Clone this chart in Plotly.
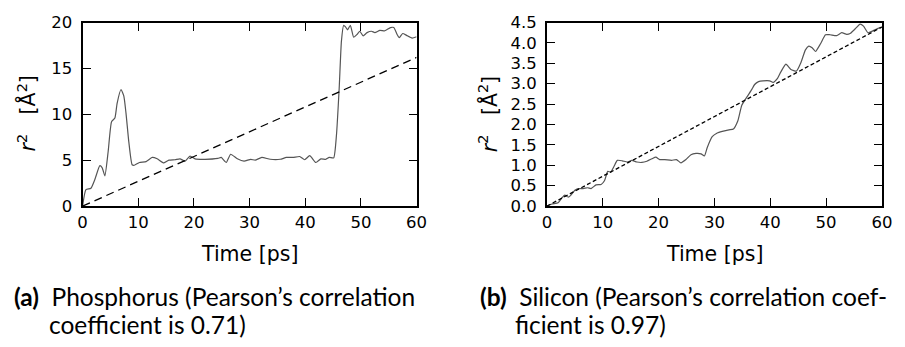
import plotly.graph_objects as go

# ---------------- data ----------------
p_t = [0, 0.6, 1.5, 2.2, 3.1, 3.5, 4.0, 4.6, 5.2, 5.8, 6.2, 6.9, 7.4, 7.8, 8.3,
       8.9, 9.3, 10.2, 11.4, 12.5, 13.4, 14.6, 15.5, 16.6, 17.5, 18.4, 19.3, 20.2,
       22.0, 24.3, 24.9, 25.8, 26.6, 27.8, 29.0, 30.2, 31.0, 32.2, 33.7, 35.5,
       36.6, 37.8, 39.0, 39.9, 40.8, 41.9, 42.8, 43.7, 44.3, 45.1, 45.6, 46.1,
       46.5, 46.9, 47.2, 47.6, 48.1, 48.7, 49.3, 49.8, 50.4, 51.1, 51.9, 52.5,
       53.4, 54.3, 55.3, 55.9, 56.5, 56.9, 57.5, 58.2, 59.2, 60.0]
p_r2 = [0, 1.8, 1.95, 2.9, 4.4, 4.2, 3.3, 6.0, 9.2, 9.6, 11.2, 12.7, 12.0, 10.1, 7.0,
        4.5, 4.45, 4.75, 4.85, 5.3, 5.15, 4.7, 5.0, 5.05, 5.15, 4.9, 5.45, 5.15,
        5.1, 5.2, 5.3, 4.75, 5.65, 5.15, 4.9, 5.1, 5.0, 5.3, 5.1, 5.1,
        5.3, 5.3, 5.4, 5.05, 5.5, 4.75, 5.15, 5.1, 5.3, 5.25, 7.7, 12.9,
        18.0, 19.7, 19.55, 19.2, 19.7, 18.4, 18.7, 19.05, 18.55, 18.9, 19.05, 18.9,
        19.15, 19.1, 19.45, 19.45, 18.7, 18.35, 18.8, 18.6, 18.3, 18.45]

s_t = [0, 0.9, 2.0, 2.6, 3.2, 3.8, 4.3, 5.0, 5.6, 6.5, 7.3, 7.9, 8.8, 9.7, 10.3,
       10.9, 11.4, 12.0, 12.6, 13.5, 14.4, 15.2, 16.1, 17.0, 17.9, 18.8, 19.5,
       20.2, 21.1, 22.3, 23.2, 24.0, 24.9, 25.8, 26.7, 27.6, 28.2, 28.7, 29.6,
       30.5, 31.4, 32.6, 33.4, 34.2, 34.9, 35.8, 36.7, 37.2, 37.9, 38.7, 39.9,
       40.5, 41.3, 41.9, 42.8, 43.7, 44.7, 45.5, 46.3, 46.9, 47.5, 48.1, 49.0,
       49.9, 50.7, 51.9, 52.8, 53.7, 54.3, 55.1, 56.1, 56.7, 57.5, 58.3, 59.2, 60.0]
s_r2 = [0, 0.05, 0.08, 0.19, 0.27, 0.22, 0.27, 0.39, 0.43, 0.43, 0.45, 0.43, 0.52, 0.53, 0.62,
        0.85, 0.83, 0.97, 1.12, 1.11, 1.08, 1.12, 1.08, 1.07, 1.10, 1.16, 1.20,
        1.14, 1.14, 1.12, 1.14, 1.06, 1.14, 1.26, 1.29, 1.28, 1.23, 1.43, 1.70,
        1.79, 1.83, 1.87, 1.89, 2.09, 2.47, 2.67, 2.86, 2.98, 3.05, 3.07, 3.07,
        3.03, 3.13, 3.29, 3.48, 3.35, 3.31, 3.52, 3.83, 3.92, 3.88, 3.79, 3.98,
        4.20, 4.20, 4.18, 4.25, 4.21, 4.23, 4.33, 4.46, 4.41, 4.25, 4.29, 4.35, 4.39]

fit_t = [0, 60]
p_fit = [0, 16.2]
s_fit = [0, 4.39]

x_ticks = [0, 10, 20, 30, 40, 50, 60]
p_yticks = [0, 5, 10, 15, 20]
s_yticks = [0, 0.5, 1.0, 1.5, 2.0, 2.5, 3.0, 3.5, 4.0, 4.5]

x_title = "Time [ps]"
y_title = "<i>r</i><sup>2</sup>   [Å<sup>2</sup>]"
cap_a1 = "<b>(a)</b>  Phosphorus (Pearson’s correlation"
cap_a2 = "coefficient is 0.71)"
cap_b1 = "<b>(b)</b>  Silicon (Pearson’s correlation coef-"
cap_b2 = "ficient is 0.97)"

# ---------------- figure ----------------
W, H = 905, 347
def px(x):
    return x / W
def py(y):
    return 1 - y / H

fig = go.Figure()
CURVE = dict(color="#555555", width=1.2)

fig.add_trace(go.Scatter(x=p_t, y=p_r2, mode="lines", line=dict(shape="spline", smoothing=0.5, **CURVE),
                         xaxis="x", yaxis="y", showlegend=False))
fig.add_trace(go.Scatter(x=fit_t, y=p_fit, mode="lines", line=dict(color="black", width=1.3, dash="8px,5px"),
                         xaxis="x", yaxis="y", showlegend=False))
fig.add_trace(go.Scatter(x=s_t, y=s_r2, mode="lines", line=dict(shape="spline", smoothing=0.5, **CURVE),
                         xaxis="x2", yaxis="y2", showlegend=False))
fig.add_trace(go.Scatter(x=fit_t, y=s_fit, mode="lines", line=dict(color="black", width=1.3, dash="4px,2.5px"),
                         xaxis="x2", yaxis="y2", showlegend=False))

PLOTFAM = "DejaVu Sans"
TICKFONT = dict(family=PLOTFAM, size=16.5, color="black")
AX = dict(showline=True, linecolor="black", linewidth=2, mirror="allticks", ticks="inside",
          ticklen=8, tickwidth=1, tickcolor="black", showgrid=False, zeroline=False,
          tickfont=TICKFONT)

ydom = [py(208.5), py(14.3)]
fig.update_layout(
    width=W, height=H, margin=dict(l=0, r=0, t=0, b=0),
    paper_bgcolor="white", plot_bgcolor="white",
    font=dict(family=PLOTFAM, color="black"),
    xaxis=dict(domain=[px(79), px(419)], range=[0, 60], tickvals=x_ticks, anchor="y", **AX),
    yaxis=dict(domain=ydom, range=[0, 20], tickvals=p_yticks, anchor="x", ticklabelstandoff=5, **AX),
    xaxis2=dict(domain=[px(551.7), px(892.7)], range=[0, 60], tickvals=x_ticks, anchor="y2", **AX),
    yaxis2=dict(domain=ydom, range=[0, 4.5], tickvals=s_yticks, tickformat=".1f", anchor="x2",
                ticklabelstandoff=5, **AX),
)

LABFONT = dict(family=PLOTFAM, size=20.5, color="black")
CAPFONT = dict(family="Lato", size=24.5, color="black")
ann = []
for cx, ylx in [((79 + 419) / 2, 23), ((551.7 + 892.7) / 2, 493)]:
    ann.append(dict(x=px(cx), y=py(259), xref="paper", yref="paper", text=x_title, showarrow=False,
                    font=LABFONT, xanchor="center", yanchor="middle"))
    ann.append(dict(x=px(ylx), y=py(111), xref="paper", yref="paper", text=y_title, showarrow=False,
                    font=LABFONT, textangle=-90, xanchor="center", yanchor="middle"))
for x0, yy, t in [(7, 304, cap_a1), (43, 334, cap_a2), (482, 304, cap_b1), (517, 334, cap_b2)]:
    ann.append(dict(x=px(x0), y=py(yy), xref="paper", yref="paper", text=t, showarrow=False,
                    font=CAPFONT, xanchor="left", yanchor="middle"))
fig.update_layout(annotations=ann)

fig.write_html("out.html")
